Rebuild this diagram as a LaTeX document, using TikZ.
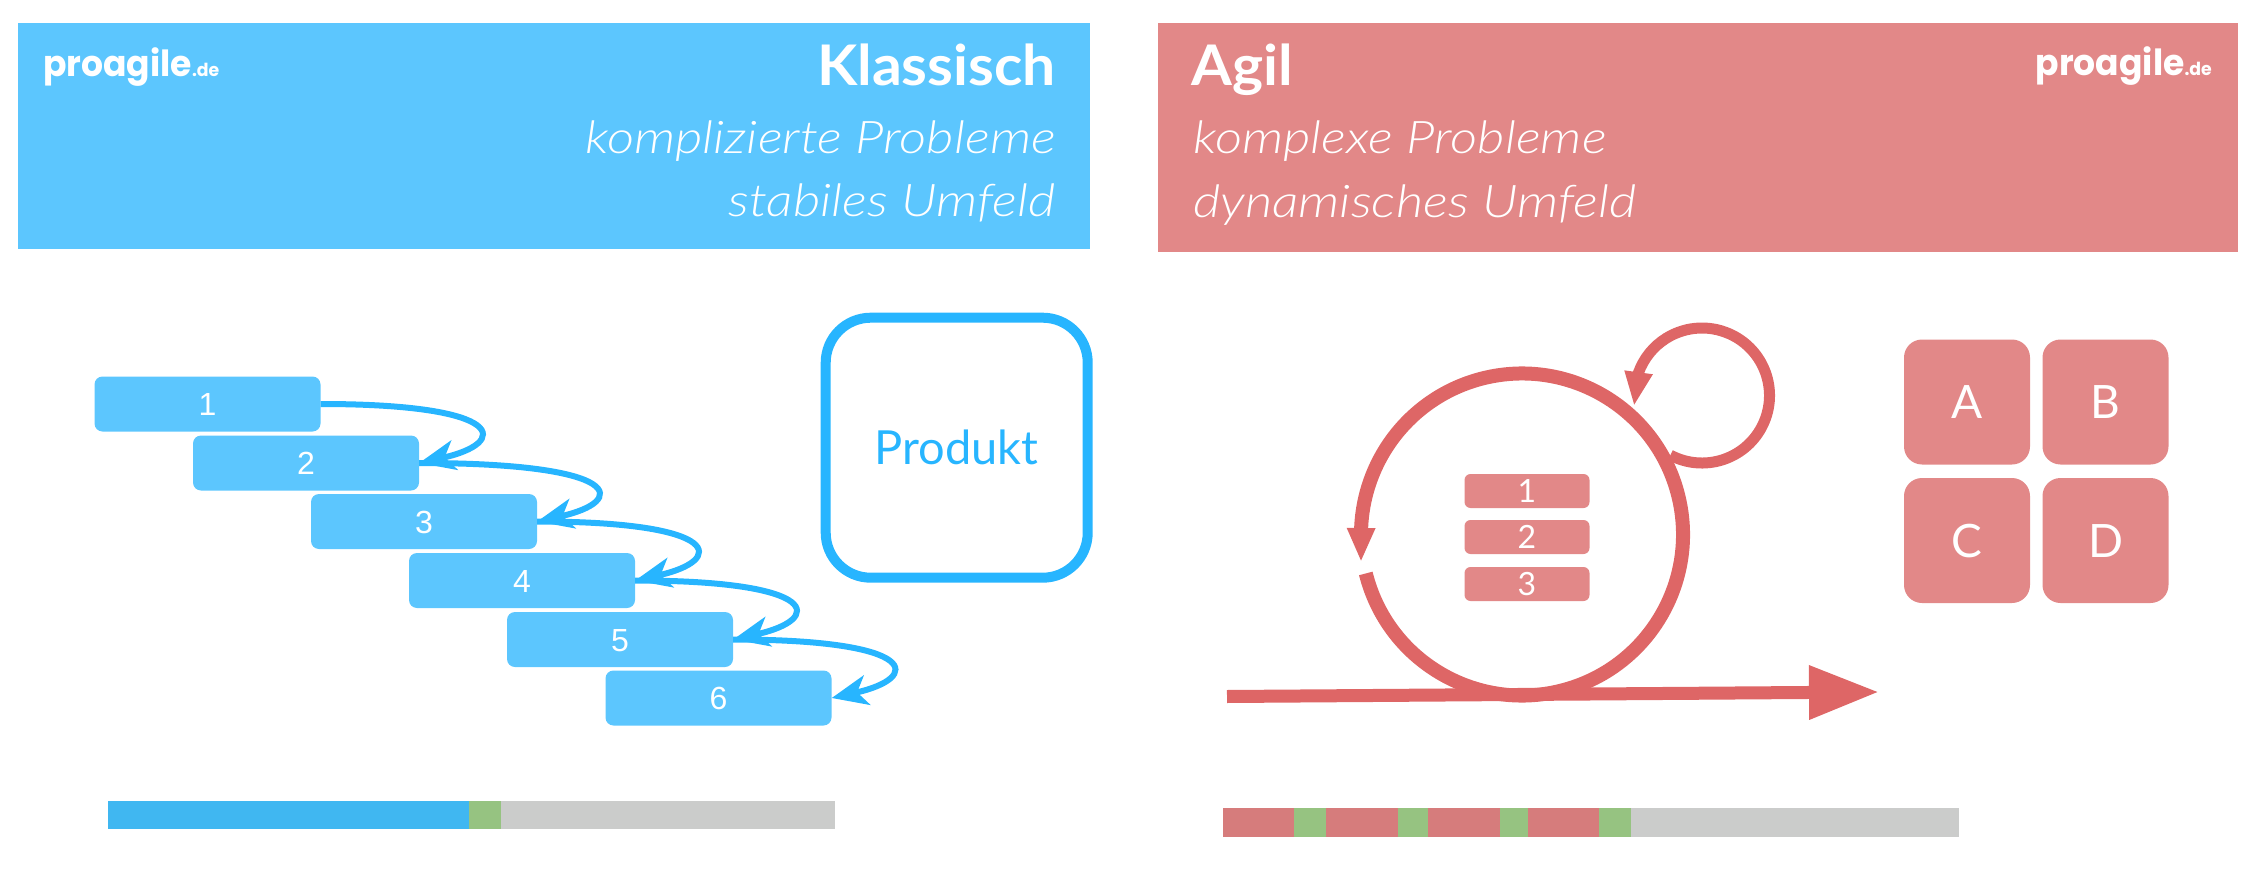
\documentclass[tikz,border=0pt]{standalone}
\usepackage{fontspec}
\setmainfont{Lato}
\newfontfamily\numfont{Liberation Sans}
\newfontfamily\headfont[FakeStretch=1.05]{Lato}
\newfontfamily\subfont[FakeStretch=1.175,ItalicFont={Lato Light Italic}]{Lato Light}
\newfontfamily\logofont[FakeStretch=0.96]{Poppins}
\usetikzlibrary{arrows.meta}
\definecolor{headblue}{HTML}{5CC6FE}
\definecolor{lineblue}{HTML}{27B5FF}
\definecolor{barblue}{HTML}{40B7F1}
\definecolor{headred}{HTML}{E28888}
\definecolor{linered}{HTML}{DE6666}
\definecolor{barred}{HTML}{D67C7C}
\definecolor{bargreen}{HTML}{96C381}
\definecolor{bargrey}{HTML}{CBCCCB}
\tikzset{
  titletext/.style={inner sep=0pt,text=white,font=\fontsize{56}{60}\headfont\selectfont\bfseries},
  subtext/.style={inner sep=0pt,text=white,font=\fontsize{45}{50}\subfont\selectfont\itshape},
  logotext/.style={inner sep=0pt,text=white,font=\fontsize{36}{40}\logofont\selectfont\bfseries},
  phasebox/.style={fill=headblue,rounded corners=8pt,minimum width=226pt,minimum height=55pt,inner sep=0pt,text height=23pt,text depth=0pt,text=white,font=\fontsize{32}{36}\selectfont\numfont},
  itembox/.style={fill=headred,rounded corners=6pt,minimum width=125pt,minimum height=34pt,inner sep=0pt,text height=23pt,text depth=0pt,text=white,font=\fontsize{32}{36}\selectfont},
  teambox/.style={fill=headred,rounded corners=18pt,minimum width=126pt,minimum height=125pt,inner sep=0pt,text height=33pt,text depth=0pt,text=white,font=\fontsize{46}{50}\selectfont},
  phasearrow/.style={draw=lineblue,line width=6pt,-{Stealth[length=36pt,width=30pt,inset=10pt]}},
  redarrow/.style={draw=linered,-{Triangle[length=34pt,width=26pt]}}
}
\begin{document}
\begin{tikzpicture}[x=1pt,y=-1pt]
\useasboundingbox (0,0) rectangle (2263,883);
% Header panels
\fill[headblue] (18,23) rectangle (1090,249);
\fill[headred] (1158,23) rectangle (2238,252);
% Header texts
\node[titletext,anchor=base east] (klassisch) at (1056,85) {Klassisch};
\node[subtext,anchor=base east] (kompliziert) at (1056,153) {komplizierte Probleme};
\node[subtext,anchor=base east] (stabil) at (1056,216) {stabiles Umfeld};
\node[titletext,anchor=base west] (agil) at (1191,85) {Agil};
\node[subtext,anchor=base west] (komplex) at (1193,153) {komplexe Probleme};
\node[subtext,anchor=base west] (dynamisch) at (1193,217) {dynamisches Umfeld};
% Logos
\node[logotext,anchor=base west] (logoleft) at (43,77) {proagile\fontsize{18}{24}\selectfont.de};
\node[logotext,anchor=base east] (logoright) at (2212,76) {proagile\fontsize{18}{24}\selectfont.de};
% Phases (waterfall)
\node[phasebox] (phase1) at (207.5,404) {1};
\node[phasebox] (phase2) at (306,463) {2};
\node[phasebox] (phase3) at (424,521.5) {3};
\node[phasebox] (phase4) at (522,580.5) {4};
\node[phasebox] (phase5) at (620,639.5) {5};
\node[phasebox] (phase6) at (718.5,698) {6};
% Arrows between phases
\foreach \a/\b in {1/2,2/3,3/4,4/5,5/6}
  \draw[phasearrow] (phase\a.east) .. controls ([xshift=90pt]phase\b.east |- phase\a.east) and +(90,-20) .. (phase\b.east);
% Product
\node[draw=lineblue,line width=10pt,rounded corners=45pt,minimum width=262pt,minimum height=260pt,inner sep=0pt,text=lineblue,font=\fontsize{47}{50}\selectfont] (produkt) at (956.7,447.7) {Produkt};
% Loops
\coordinate (wheel) at (1522,534.5);
\coordinate (wheeltip) at (1361,562);
\coordinate (loop) at (1702,395.5);
\coordinate (looptip) at (1634,406);
\draw[redarrow,line width=14pt] ([shift={(166:161)}]wheel) arc[start angle=166,end angle=-177.7,radius=161] -- (wheeltip);
\draw[redarrow,line width=11pt] ([shift={(118:67.5)}]loop) arc[start angle=118,end angle=-160,radius=67.5] -- (looptip);
% Items in the loop
\node[itembox] (item1) at (1527,491) {1};
\node[itembox] (item2) at (1527,537) {2};
\node[itembox] (item3) at (1527,584) {3};
% Time line
\coordinate (timestart) at (1227,696.5);
\coordinate (timeend) at (1879,692);
\draw[draw=linered,line width=13pt,-{Triangle[length=70pt,width=51pt]}] (timestart) -- (timeend);
% Team
\node[teambox] (teamA) at (1967,402) {A};
\node[teambox] (teamB) at (2105.5,402) {B};
\node[teambox] (teamC) at (1967,540.5) {C};
\node[teambox] (teamD) at (2105.5,540.5) {D};
% Progress bars
\fill[bargrey] (108,801) rectangle (835,829);
\fill[barblue] (108,801) rectangle (469,829);
\fill[bargreen] (469,801) rectangle (501,829);
\fill[bargrey] (1223,808) rectangle (1959,837);
\foreach \x/\y/\z in {1223/1294/1326,1326/1398/1428,1428/1500/1528,1528/1599/1631}{
  \fill[barred] (\x,808) rectangle (\y,837);
  \fill[bargreen] (\y,808) rectangle (\z,837);
}
\end{tikzpicture}
\end{document}
